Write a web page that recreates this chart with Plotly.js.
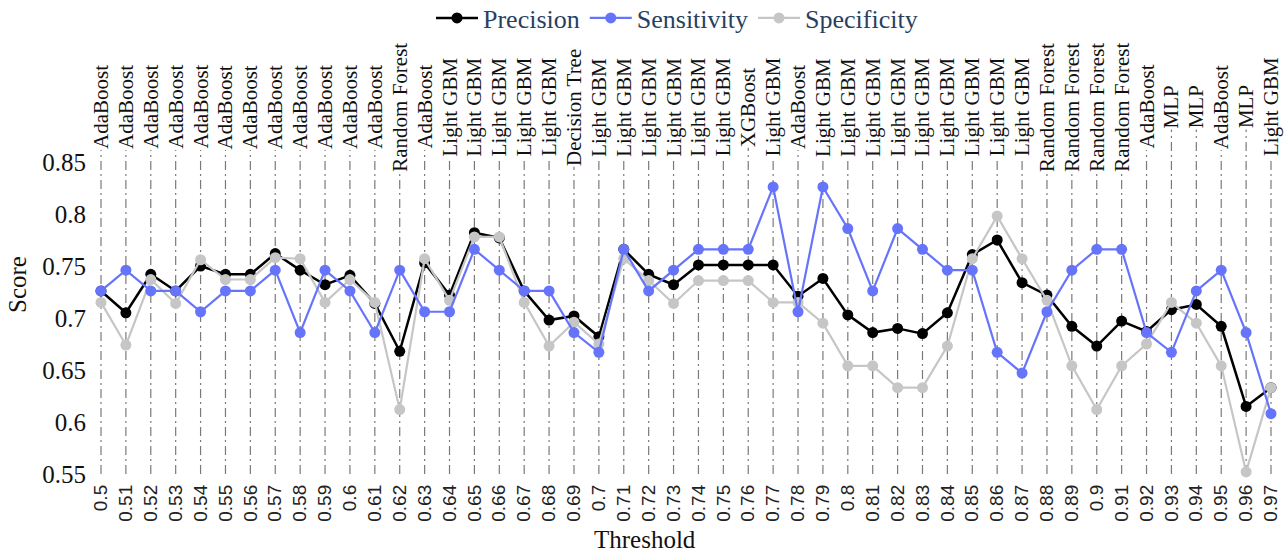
<!DOCTYPE html>
<html>
<head>
<meta charset="utf-8">
<script src="https://cdn.plot.ly/plotly-3.0.1.min.js"></script>
<style>html,body{margin:0;padding:0;background:#fff;}#chart{width:1287px;height:555px;}</style>
</head>
<body>
<div id="chart"></div>
<script>
var thresholds = [0.5,0.51,0.52,0.53,0.54,0.55,0.56,0.57,0.58,0.59,0.6,0.61,0.62,0.63,0.64,0.65,0.66,0.67,0.68,0.69,0.7,0.71,0.72,0.73,0.74,0.75,0.76,0.77,0.78,0.79,0.8,0.81,0.82,0.83,0.84,0.85,0.86,0.87,0.88,0.89,0.9,0.91,0.92,0.93,0.94,0.95,0.96,0.97];
var tickLabels = ["0.5","0.51","0.52","0.53","0.54","0.55","0.56","0.57","0.58","0.59","0.6","0.61","0.62","0.63","0.64","0.65","0.66","0.67","0.68","0.69","0.7","0.71","0.72","0.73","0.74","0.75","0.76","0.77","0.78","0.79","0.8","0.81","0.82","0.83","0.84","0.85","0.86","0.87","0.88","0.89","0.9","0.91","0.92","0.93","0.94","0.95","0.96","0.97"];
var models = ["AdaBoost","AdaBoost","AdaBoost","AdaBoost","AdaBoost","AdaBoost","AdaBoost","AdaBoost","AdaBoost","AdaBoost","AdaBoost","AdaBoost","Random Forest","AdaBoost","Light GBM","Light GBM","Light GBM","Light GBM","Light GBM","Decision Tree","Light GBM","Light GBM","Light GBM","Light GBM","Light GBM","Light GBM","XGBoost","Light GBM","AdaBoost","Light GBM","Light GBM","Light GBM","Light GBM","Light GBM","Light GBM","Light GBM","Light GBM","Light GBM","Random Forest","Random Forest","Random Forest","Random Forest","AdaBoost","MLP","MLP","AdaBoost","MLP","Light GBM"];
var precision = [0.726,0.705,0.742,0.726,0.750,0.742,0.742,0.762,0.746,0.732,0.741,0.714,0.668,0.753,0.722,0.782,0.777,0.726,0.698,0.702,0.682,0.766,0.742,0.732,0.751,0.751,0.751,0.751,0.721,0.738,0.703,0.686,0.690,0.685,0.705,0.761,0.775,0.734,0.722,0.692,0.673,0.697,0.687,0.708,0.713,0.692,0.615,0.633];
var sensitivity = [0.726,0.746,0.726,0.726,0.706,0.726,0.726,0.746,0.686,0.746,0.726,0.686,0.746,0.706,0.706,0.766,0.746,0.726,0.726,0.686,0.667,0.766,0.726,0.746,0.766,0.766,0.766,0.826,0.706,0.826,0.786,0.726,0.786,0.766,0.746,0.746,0.667,0.647,0.706,0.746,0.766,0.766,0.686,0.667,0.726,0.746,0.686,0.608];
var specificity = [0.715,0.674,0.737,0.714,0.756,0.737,0.737,0.758,0.757,0.715,0.737,0.715,0.612,0.757,0.717,0.778,0.778,0.715,0.673,0.696,0.675,0.757,0.736,0.714,0.736,0.736,0.736,0.715,0.715,0.695,0.654,0.654,0.633,0.633,0.673,0.757,0.798,0.757,0.717,0.654,0.612,0.654,0.675,0.715,0.695,0.654,0.552,0.633];
var yTickVals = [0.55,0.6,0.65,0.7,0.75,0.8,0.85];
var yTickText = ["0.55","0.6","0.65","0.7","0.75","0.8","0.85"];

var W = 1287, H = 555;
var M = {l: 90, r: 5, t: 162, b: 81, autoexpand: false};
var plotW = W - M.l - M.r;
var plotH = H - M.t - M.b;
function paperY(py) { return (H - M.b - py) / plotH; }
function paperX(px) { return (px - M.l) / plotW; }

var serif = "Liberation Serif";
var labelSize = 21;
var labelCenterPy = 107;
var cv = document.createElement('canvas');
var ctx = cv.getContext('2d');
ctx.font = labelSize + "px '" + serif + "'";

var shapes = [], annotations = [];
thresholds.forEach(function (t, i) {
  var w = ctx.measureText(models[i]).width;
  shapes.push({type: 'line', xref: 'x', yref: 'paper', x0: t, x1: t, y0: 0, y1: paperY(labelCenterPy + w / 2 + 1),
    line: {color: '#7a7a7a', width: 1.2, dash: '9px,4px,2px,4px'}, layer: 'below'});
  annotations.push({xref: 'x', yref: 'paper', x: t, y: paperY(labelCenterPy), text: models[i], textangle: -90,
    showarrow: false, xanchor: 'center', yanchor: 'middle', borderpad: 0,
    font: {family: serif, size: labelSize, color: '#111'}});
});
annotations.push({xref: 'paper', yref: 'paper', x: paperX(645), y: paperY(554), text: 'Threshold', showarrow: false,
  xanchor: 'center', yanchor: 'bottom', borderpad: 0, font: {family: serif, size: 25, color: '#111'}});
annotations.push({xref: 'paper', yref: 'paper', x: paperX(17), y: paperY(285), text: 'Score', showarrow: false, textangle: -90,
  xanchor: 'center', yanchor: 'middle', font: {family: serif, size: 25, color: '#111'}});

var mk = function (name, y, color, lw, rank) {
  return {x: thresholds, y: y, name: name, type: 'scatter', mode: 'lines+markers', legendrank: rank,
    line: {color: color, width: lw}, marker: {color: color, size: 11}, cliponaxis: false};
};
var traces = [
  mk('Precision', precision, '#000000', 2.5, 1),
  mk('Specificity', specificity, '#c6c6c6', 2.2, 3),
  mk('Sensitivity', sensitivity, '#6674fb', 2.2, 2)
];

var layout = {
  width: W, height: H,
  margin: M,
  paper_bgcolor: '#fff', plot_bgcolor: '#fff',
  showlegend: true,
  legend: {orientation: 'h', x: paperX(677), xanchor: 'center', y: paperY(18), yanchor: 'middle',
    font: {family: serif, size: 26, color: '#2a3f5f'}, itemwidth: 42, bgcolor: 'rgba(0,0,0,0)',
    traceorder: 'normal'},
  xaxis: {range: [0.5 - 11/2490, 0.97 + 11/2490], tickvals: thresholds, ticktext: tickLabels, tickangle: -90,
    showgrid: false, zeroline: false, showline: false, ticks: '', ticklabelstandoff: 6,
    tickfont: {family: 'Liberation Sans', size: 19, color: '#222'}, automargin: false},
  yaxis: {range: [0.55, 0.85], tickvals: yTickVals, ticktext: yTickText, showgrid: false, zeroline: false,
    showline: false, ticks: '', ticklabelstandoff: 3,
    tickfont: {family: serif, size: 25, color: '#111'}, automargin: false},
  shapes: shapes,
  annotations: annotations
};
Plotly.newPlot('chart', traces, layout, {displayModeBar: false, staticPlot: true});
</script>
</body>
</html>
